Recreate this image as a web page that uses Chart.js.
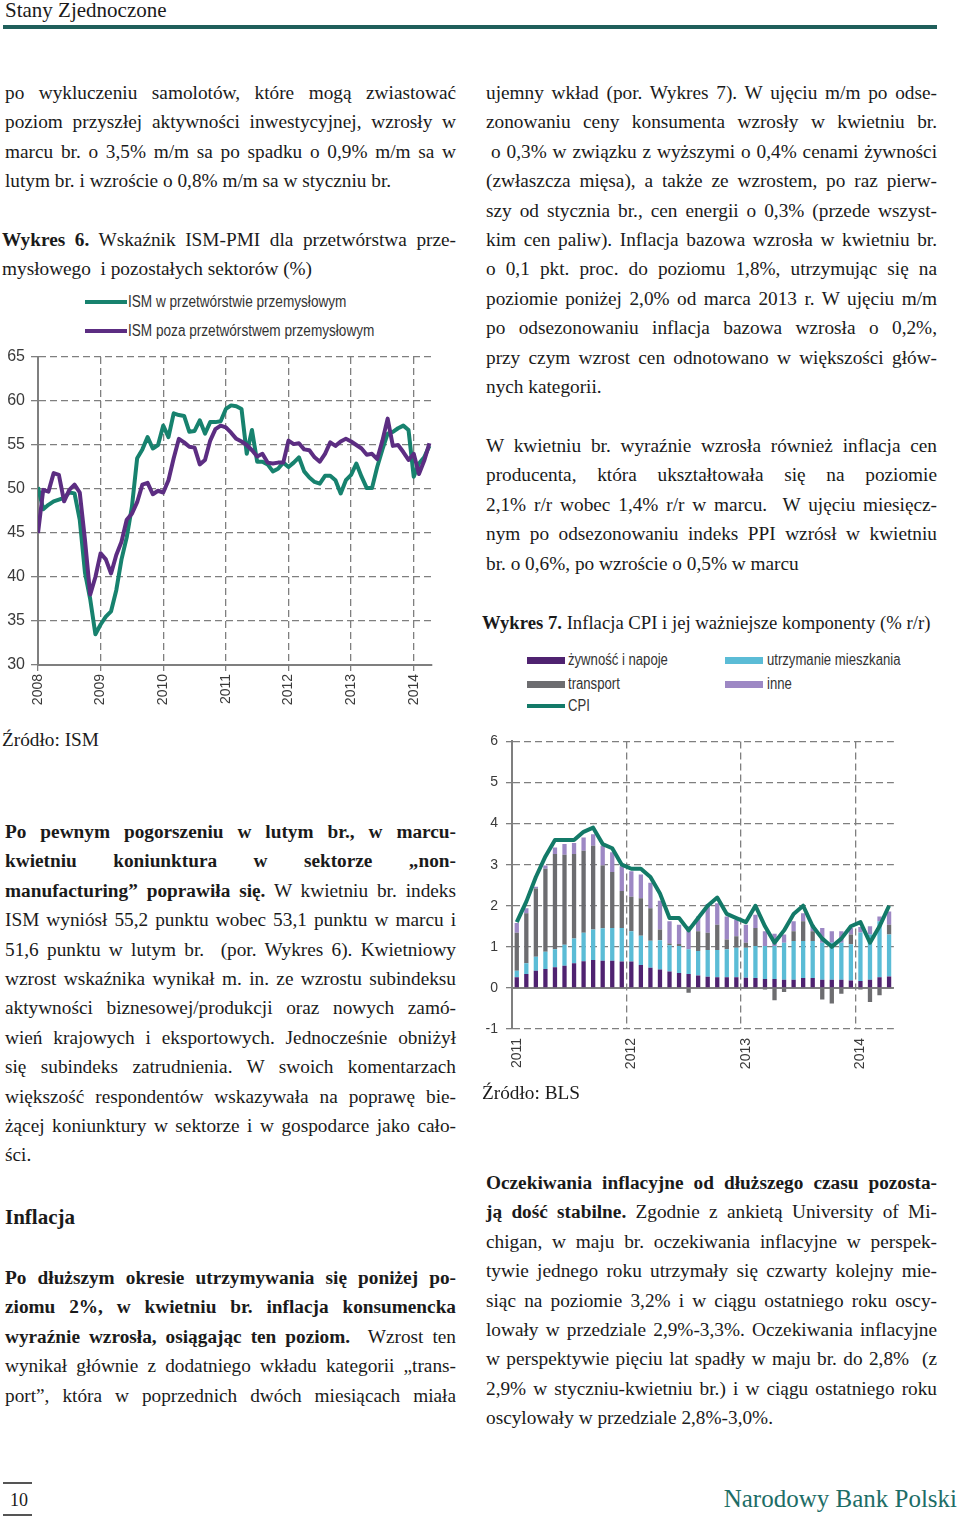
<!DOCTYPE html>
<html lang="pl">
<head>
<meta charset="utf-8">
<title>Stany Zjednoczone</title>
<script src="https://cdn.jsdelivr.net/npm/chart.js@4.4.1/dist/chart.umd.min.js"></script>
<style>
  html, body { margin: 0; padding: 0; background: #fff; }
  body { width: 960px; height: 1517px; position: relative; overflow: hidden;
         font-family: "Liberation Serif", serif; color: #1a1a1a; }
  .abs { position: absolute; }
  .p { position: absolute; width: 451px; font-size: 19.3px; line-height: 29.4px; }
  .p div { text-align: justify; text-align-last: justify; }
  .p div.l { text-align-last: left; }
  .lg { position: absolute; font-family: "Liberation Sans", Arial, sans-serif; font-size: 16px;
        line-height: 20px; color: #333; white-space: nowrap; transform-origin: 0 50%; }
  .sw { position: absolute; }
  canvas { position: absolute; }
</style>
</head>
<body>

<div class="abs" style="left:5px; top:-2px; font-size:21px; line-height:24px;">Stany Zjednoczone</div>
<div class="abs" style="left:3px; top:25px; width:934px; height:4px; background:#1f5f5b;"></div>

<!-- left column -->
<div class="p" style="left:5px; top:78px;">
  <div>po wykluczeniu samolotów, które mogą zwiastować</div>
  <div>poziom przyszłej aktywności inwestycyjnej, wzrosły w</div>
  <div>marcu br. o 3,5% m/m sa po spadku o 0,9% m/m sa w</div>
  <div class="l">lutym br. i wzroście o 0,8% m/m sa w styczniu br.</div>
</div>

<div class="p" style="left:2px; top:225px; width:454px;">
  <div><b>Wykres 6.</b> Wskaźnik ISM-PMI dla przetwórstwa prze-</div>
  <div class="l">mysłowego&nbsp; i pozostałych sektorów (%)</div>
</div>

<div class="sw" style="left:85px; top:300px; width:42px; height:4px; background:#17826e;"></div>
<div class="lg" style="left:128px; top:292px; transform:scaleX(0.85);">ISM w przetwórstwie przemysłowym</div>
<div class="sw" style="left:85px; top:329px; width:42px; height:4px; background:#5c2d82;"></div>
<div class="lg" style="left:128px; top:321px; transform:scaleX(0.85);">ISM poza przetwórstwem przemysłowym</div>

<canvas id="chartIsm" width="440" height="372" style="left:0px; top:340px;"></canvas>

<div class="p" style="left:2px; top:725px;"><div class="l">Źródło: ISM</div></div>

<div class="p" style="left:5px; top:817px;">
  <div><b>Po pewnym pogorszeniu w lutym br., w marcu-</b></div>
  <div><b>kwietniu koniunktura w sektorze „non-</b></div>
  <div><b>manufacturing” poprawiła się.</b> W kwietniu br. indeks</div>
  <div>ISM wyniósł 55,2 punktu wobec 53,1 punktu w marcu i</div>
  <div>51,6 punktu w lutym br.&nbsp; (por. Wykres 6). Kwietniowy</div>
  <div>wzrost wskaźnika wynikał m. in. ze wzrostu subindeksu</div>
  <div>aktywności biznesowej/produkcji oraz nowych zamó-</div>
  <div>wień krajowych i eksportowych. Jednocześnie obniżył</div>
  <div>się subindeks zatrudnienia. W swoich komentarzach</div>
  <div>większość respondentów wskazywała na poprawę bie-</div>
  <div>żącej koniunktury w sektorze i w gospodarce jako cało-</div>
  <div class="l">ści.</div>
</div>

<div class="abs" style="left:5px; top:1203px; font-size:21px; line-height:29px; font-weight:bold;">Inflacja</div>

<div class="p" style="left:5px; top:1263px;">
  <div><b>Po dłuższym okresie utrzymywania się poniżej po-</b></div>
  <div><b>ziomu 2%, w kwietniu br. inflacja konsumencka</b></div>
  <div><b>wyraźnie wzrosła, osiągając ten poziom.</b>&nbsp; Wzrost ten</div>
  <div>wynikał głównie z dodatniego wkładu kategorii „trans-</div>
  <div>port”, która w poprzednich dwóch miesiącach miała</div>
</div>

<!-- right column -->
<div class="p" style="left:486px; top:78px;">
  <div>ujemny wkład (por. Wykres 7). W ujęciu m/m po odse-</div>
  <div>zonowaniu ceny konsumenta wzrosły w kwietniu br.</div>
  <div style="padding-left:5px;">o 0,3% w związku z wyższymi o 0,4% cenami żywności</div>
  <div>(zwłaszcza mięsa), a także ze wzrostem, po raz pierw-</div>
  <div>szy od stycznia br., cen energii o 0,3% (przede wszyst-</div>
  <div>kim cen paliw). Inflacja bazowa wzrosła w kwietniu br.</div>
  <div>o 0,1 pkt. proc. do poziomu 1,8%, utrzymując się na</div>
  <div>poziomie poniżej 2,0% od marca 2013 r. W ujęciu m/m</div>
  <div>po odsezonowaniu inflacja bazowa wzrosła o 0,2%,</div>
  <div>przy czym wzrost cen odnotowano w większości głów-</div>
  <div class="l">nych kategorii.</div>
</div>

<div class="p" style="left:486px; top:431px;">
  <div>W kwietniu br. wyraźnie wzrosła również inflacja cen</div>
  <div>producenta, która ukształtowała się na poziomie</div>
  <div>2,1% r/r wobec 1,4% r/r w marcu.&nbsp; W ujęciu miesięcz-</div>
  <div>nym po odsezonowaniu indeks PPI wzrósł w kwietniu</div>
  <div class="l">br. o 0,6%, po wzroście o 0,5% w marcu</div>
</div>

<div class="p" style="left:482px; top:608px; width:470px; white-space:nowrap; font-size:18.7px;">
  <div class="l"><b>Wykres 7.</b> Inflacja CPI i jej ważniejsze komponenty (% r/r)</div>
</div>

<div class="sw" style="left:527px; top:657px; width:38px; height:7px; background:#4f2270;"></div>
<div class="lg" style="left:568px; top:650px; transform:scaleX(0.82);">żywność i napoje</div>
<div class="sw" style="left:725px; top:657px; width:38px; height:7px; background:#5bbcd6;"></div>
<div class="lg" style="left:767px; top:650px; transform:scaleX(0.82);">utrzymanie mieszkania</div>
<div class="sw" style="left:527px; top:681px; width:38px; height:7px; background:#6d6d70;"></div>
<div class="lg" style="left:568px; top:674px; transform:scaleX(0.82);">transport</div>
<div class="sw" style="left:725px; top:681px; width:38px; height:7px; background:#9d88c4;"></div>
<div class="lg" style="left:767px; top:674px; transform:scaleX(0.82);">inne</div>
<div class="sw" style="left:527px; top:704px; width:38px; height:4px; background:#137a68;"></div>
<div class="lg" style="left:568px; top:696px; transform:scaleX(0.82);">CPI</div>

<canvas id="chartCpi" width="445" height="355" style="left:470px; top:725px;"></canvas>

<div class="p" style="left:482px; top:1078px;"><div class="l">Źródło: BLS</div></div>

<div class="p" style="left:486px; top:1168px;">
  <div><b>Oczekiwania inflacyjne od dłuższego czasu pozosta-</b></div>
  <div><b>ją dość stabilne.</b> Zgodnie z ankietą University of Mi-</div>
  <div>chigan, w maju br. oczekiwania inflacyjne w perspek-</div>
  <div>tywie jednego roku utrzymały się czwarty kolejny mie-</div>
  <div>siąc na poziomie 3,2% i w ciągu ostatniego roku oscy-</div>
  <div>lowały w przedziale 2,9%-3,3%. Oczekiwania inflacyjne</div>
  <div>w perspektywie pięciu lat spadły w maju br. do 2,8%&nbsp; (z</div>
  <div>2,9% w styczniu-kwietniu br.) i w ciągu ostatniego roku</div>
  <div class="l">oscylowały w przedziale 2,8%-3,0%.</div>
</div>

<!-- footer -->
<div class="abs" style="left:3px; top:1482px; width:29px; height:2px; background:#555;"></div>
<div class="abs" style="left:10px; top:1488px; font-size:18px; line-height:24px;">10</div>
<div class="abs" style="left:3px; top:1514px; width:29px; height:2px; background:#555;"></div>
<div class="abs" style="right:3px; top:1484px; font-size:25px; line-height:30px; color:#1d6d66;">Narodowy Bank Polski</div>

<script>
// Wykres 6: ISM, monthly, Jan 2008 - Apr 2014
const ismYears = ['2008', '2009', '2010', '2011', '2012', '2013', '2014'];
const ismManufacturing = [
  50.2, 47.7, 48.2, 48.6, 48.8, 49.0, 49.6, 49.5, 46.5, 40.5, 37.5, 33.5,
  34.6, 35.5, 36.1, 38.5, 42.0, 44.5, 48.0, 53.5, 54.5, 55.9, 54.6, 55.0,
  57.2, 55.9, 58.6, 58.4, 58.3, 56.5, 56.6, 57.8, 56.3, 57.6, 57.6, 57.7,
  59.1, 59.5, 59.4, 59.1, 54.0, 56.7, 53.1, 53.1, 52.8, 52.0, 52.3, 53.0,
  52.5, 53.0, 53.6, 52.0, 51.3, 50.8, 50.6, 51.5, 51.5, 51.0, 49.5, 51.0,
  51.6, 52.9, 51.4, 50.1, 50.1, 52.5, 54.5, 56.3, 56.5, 56.9, 57.2, 56.7,
  51.4, 52.9, 53.6, 54.9
];
const ismServices = [
  45.0, 49.9, 49.7, 51.8, 51.6, 48.6, 49.9, 50.5, 49.6, 44.2, 38.0, 40.0,
  42.7, 42.0, 40.4, 42.5, 44.0, 46.5, 47.2, 48.5, 50.5, 50.7, 49.4, 49.8,
  49.6, 51.0, 53.5, 55.7, 55.3, 54.8, 54.7, 52.8, 53.3, 55.5, 56.8, 57.2,
  57.0, 56.4, 55.7, 55.4, 55.0, 54.4, 53.7, 54.0, 53.0, 52.9, 53.0, 53.0,
  55.5, 55.1, 55.2, 54.5, 54.4, 53.6, 53.1, 54.0, 55.3, 54.9, 55.4, 55.7,
  55.4, 55.0, 54.6, 53.9, 54.0, 53.4, 55.5, 58.0, 54.9, 55.0, 54.2, 53.3,
  54.0, 51.7, 53.2, 55.2
];

// Wykres 7: CPI y/y and contributions, Jan 2011 - Apr 2014
const cpiYears = ['2011', '2012', '2013', '2014'];
const cpiTotal = [
  1.6, 2.1, 2.7, 3.2, 3.6, 3.6, 3.6, 3.8, 3.9, 3.5, 3.4, 3.0,
  2.9, 2.9, 2.7, 2.3, 1.7, 1.7, 1.4, 1.7, 2.0, 2.2, 1.8, 1.7,
  1.6, 2.0, 1.5, 1.1, 1.4, 1.8, 2.0, 1.5, 1.2, 1.0, 1.2, 1.5,
  1.6, 1.1, 1.5, 2.0
];
const cpiFood = [
  0.26, 0.34, 0.42, 0.46, 0.50, 0.54, 0.60, 0.65, 0.68, 0.66, 0.66, 0.64,
  0.64, 0.56, 0.49, 0.45, 0.40, 0.36, 0.34, 0.30, 0.27, 0.26, 0.26, 0.26,
  0.25, 0.24, 0.22, 0.22, 0.20, 0.20, 0.24, 0.24, 0.20, 0.20, 0.20, 0.18,
  0.17, 0.20, 0.26, 0.28
];
const cpiHousing = [
  0.16, 0.26, 0.34, 0.42, 0.44, 0.51, 0.60, 0.69, 0.74, 0.79, 0.80, 0.82,
  0.74, 0.71, 0.66, 0.71, 0.64, 0.66, 0.60, 0.60, 0.65, 0.66, 0.68, 0.72,
  0.73, 0.78, 0.80, 0.80, 0.90, 0.94, 0.90, 0.90, 0.90, 0.90, 0.90, 0.88,
  1.18, 1.10, 1.36, 1.02
];
const cpiTransport = [
  0.92, 1.22, 1.66, 2.02, 2.32, 2.19, 2.06, 2.00, 2.04, 1.53, 1.36, 0.90,
  0.84, 0.91, 0.79, 0.26, 0.04, 0.05, -0.12, 0.48, 0.42, 0.62, 0.24, 0.28,
  0.12, 0.44, -0.04, -0.30, -0.10, 0.24, 0.48, 0.24, -0.28, -0.38, -0.14, 0.24,
  -0.04, -0.34, -0.18, 0.24
];
const cpiOther = [
  0.24, 0.12, 0.04, 0.08, 0.16, 0.26, 0.27, 0.32, 0.28, 0.48, 0.48, 0.60,
  0.62, 0.58, 0.62, 0.70, 0.54, 0.47, 0.56, 0.36, 0.70, 0.52, 0.56, 0.40,
  0.44, 0.32, 0.36, 0.30, 0.20, 0.24, 0.20, 0.16, 0.36, 0.28, 0.28, 0.16,
  0.13, 0.20, 0.12, 0.32
];

const GRID = '#7f7f7f';
const TXT = '#3a3a3a';
Chart.defaults.font.family = '"Liberation Sans", Arial, sans-serif';
Chart.defaults.color = TXT;

// chart 6
new Chart(document.getElementById('chartIsm'), {
  type: 'line',
  data: {
    datasets: [
      {
        label: 'ISM w przetwórstwie przemysłowym',
        data: ismManufacturing.map((v, i) => ({x: i, y: v})),
        borderColor: '#17826e',
        borderWidth: 4,
        pointRadius: 0,
        borderJoinStyle: 'round',
        order: 1
      },
      {
        label: 'ISM poza przetwórstwem przemysłowym',
        data: ismServices.map((v, i) => ({x: i, y: v})),
        borderColor: '#5c2d82',
        borderWidth: 4,
        pointRadius: 0,
        borderJoinStyle: 'round',
        order: 0
      }
    ]
  },
  options: {
    responsive: false,
    animation: false,
    layout: { padding: { top: 17, right: 8, left: 0, bottom: 0 } },
    plugins: { legend: { display: false }, tooltip: { enabled: false } },
    scales: {
      x: {
        type: 'linear',
        min: 0,
        max: 75.5,
        afterBuildTicks: (s) => { s.ticks = ismYears.map((y, i) => ({ value: i * 12 })); },
        afterFit: (s) => { s.height = 47; },
        ticks: {
          callback: (v) => ismYears[v / 12],
          autoSkip: false,
          maxRotation: 90,
          minRotation: 90,
          padding: 3,
          font: { size: 14 }
        },
        grid: { color: GRID, lineWidth: 1.3, tickLength: 6, tickColor: GRID },
        border: { color: GRID, width: 2, dash: [7, 4] }
      },
      y: {
        min: 30,
        max: 65,
        afterFit: (s) => { s.width = 38; },
        ticks: { stepSize: 5, padding: 6, font: { size: 16 } },
        grid: { color: GRID, lineWidth: 1.3, tickLength: 7, tickColor: GRID },
        border: { color: GRID, width: 2, dash: [7, 4] }
      }
    }
  }
});

// chart 7
const cpiMonths = cpiYears.flatMap((y) =>
  ['01', '02', '03', '04', '05', '06', '07', '08', '09', '10', '11', '12'].map((m) => y + '-' + m)
).slice(0, cpiTotal.length);

const zeroLine = {
  id: 'zeroLine',
  beforeDatasetsDraw(chart) {
    const { ctx, chartArea, scales } = chart;
    const y0 = scales.y.getPixelForValue(0);
    ctx.save();
    ctx.strokeStyle = GRID;
    ctx.lineWidth = 2;
    ctx.beginPath();
    ctx.moveTo(chartArea.left, y0);
    ctx.lineTo(chartArea.right, y0);
    ctx.stroke();
    ctx.restore();
  }
};

const barOpts = { type: 'bar', stack: 'parts', order: 1, barPercentage: 0.45, categoryPercentage: 1 };

new Chart(document.getElementById('chartCpi'), {
  data: {
    labels: cpiMonths,
    datasets: [
      { type: 'line', label: 'CPI', data: cpiTotal, stack: 'cpi', borderColor: '#137a68',
        borderWidth: 4, pointRadius: 0, borderJoinStyle: 'round', order: 0 },
      { ...barOpts, label: 'żywność i napoje', data: cpiFood, backgroundColor: '#4f2270' },
      { ...barOpts, label: 'utrzymanie mieszkania', data: cpiHousing, backgroundColor: '#5bbcd6' },
      { ...barOpts, label: 'transport', data: cpiTransport, backgroundColor: '#6d6d70' },
      { ...barOpts, label: 'inne', data: cpiOther, backgroundColor: '#9d88c4' }
    ]
  },
  plugins: [zeroLine],
  options: {
    responsive: false,
    animation: false,
    layout: { padding: { top: 13, right: 10, left: 0, bottom: 0 } },
    plugins: { legend: { display: false }, tooltip: { enabled: false } },
    scales: {
      x: {
        stacked: true,
        afterFit: (s) => { s.height = 51; },
        ticks: {
          callback: (v, i) => (i % 12 === 0 ? cpiYears[i / 12] : ''),
          autoSkip: false,
          maxRotation: 90,
          minRotation: 90,
          padding: 9,
          font: { size: 14 }
        },
        grid: {
          offset: true,
          drawTicks: false,
          lineWidth: 1.3,
          color: (c) => (c.index % 12 === 0 ? GRID : 'rgba(0,0,0,0)')
        },
        border: { display: false, dash: [7, 4] }
      },
      y: {
        stacked: true,
        min: -1,
        max: 6,
        afterFit: (s) => { s.width = 42; },
        ticks: { stepSize: 1, padding: 8, font: { size: 14 } },
        grid: { color: GRID, lineWidth: 1.3, tickLength: 6, tickColor: GRID },
        border: { color: GRID, width: 2, dash: [7, 4] }
      }
    }
  }
});
</script>
</body>
</html>
